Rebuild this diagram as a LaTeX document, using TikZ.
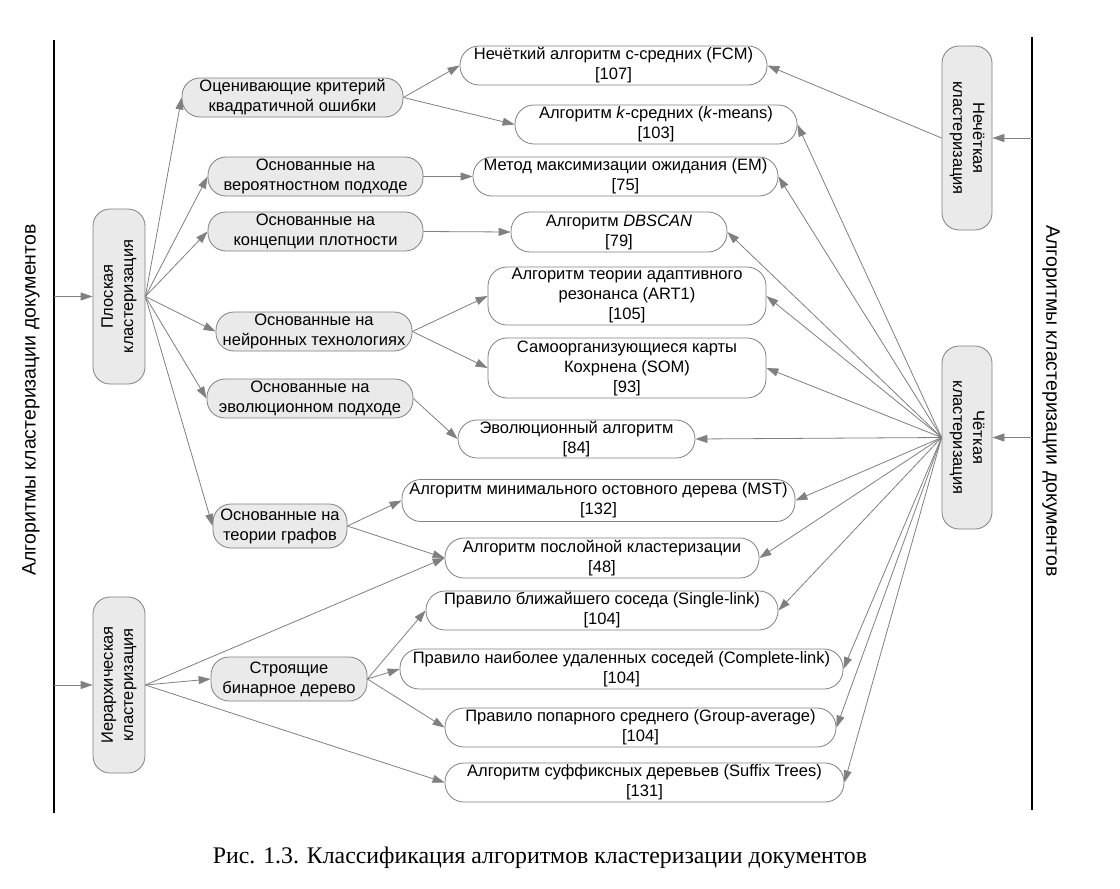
\documentclass[tikz,border=0pt]{standalone}
\usepackage{fontspec}
\usepackage{graphicx}
\setmainfont{Liberation Sans}
\newfontfamily\capfont{Liberation Serif}
\usetikzlibrary{arrows.meta}
\definecolor{lc}{HTML}{808080}
\definecolor{gf}{HTML}{EAEAEA}
\begin{document}
\begin{tikzpicture}[x=1pt,y=-1pt,
  every node/.style={font=\fontsize{16.5}{20}\selectfont, inner sep=0pt, align=center},
  gbox/.style={draw=lc, fill=gf, rounded corners=18pt, line width=0.8pt},
  wbox/.style={draw=lc, fill=white, rounded corners=19pt, line width=0.8pt},
  vbox/.style={draw=lc, fill=gf, rounded corners=17pt, line width=0.8pt},
  conn/.style={draw=lc, line width=0.8pt, -{Triangle[length=12pt,width=8pt]}},
  mainline/.style={draw=black, line width=1.2pt},
  biglabel/.style={font=\fontsize{19.5}{22}\selectfont},
]
\useasboundingbox (0,0) rectangle (1120,889);
\fill[white] (0,0) rectangle (1120,889);

% frame lines
\coordinate (lt) at (54,40); \coordinate (lb) at (54,813);
\coordinate (rt) at (1032,37); \coordinate (rb) at (1032,810);
\draw[mainline] (lt) -- (lb);
\draw[mainline] (rt) -- (rb);

\node[rotate=90, biglabel] (ll) at (31,400) {Алгоритмы кластеризации документов};
\node[rotate=-90, biglabel] (rl) at (1051,401) {Алгоритмы кластеризации документов};

% vertical boxes
\node[vbox, minimum width=52pt, minimum height=175pt] (fl) at (119,296.5)
  {\rotatebox{90}{\begin{tabular}{@{}c@{}}Плоская\\кластеризация\end{tabular}}};
\node[vbox, minimum width=52pt, minimum height=176pt] (hi) at (119,685)
  {\rotatebox{90}{\begin{tabular}{@{}c@{}}Иерархическая\\кластеризация\end{tabular}}};
\node[vbox, minimum width=50pt, minimum height=184pt] (fu) at (967,138)
  {\rotatebox{-90}{\begin{tabular}{@{}c@{}}Нечёткая\\кластеризация\end{tabular}}};
\node[vbox, minimum width=50pt, minimum height=183pt] (cr) at (967,437.5)
  {\rotatebox{-90}{\begin{tabular}{@{}c@{}}Чёткая\\кластеризация\end{tabular}}};

% gray level-2 boxes
\node[gbox, minimum width=221pt, minimum height=39pt] (oc) at (292.5,97.5) {Оценивающие критерий\\квадратичной ошибки};
\node[gbox, minimum width=215pt, minimum height=39pt] (ver) at (315.5,176.5) {Основанные на\\вероятностном подходе};
\node[gbox, minimum width=215pt, minimum height=39pt] (pl) at (315.5,231.5) {Основанные на\\концепции плотности};
\node[gbox, minimum width=196pt, minimum height=39pt] (ne) at (314,331.5) {Основанные на\\нейронных технологиях};
\node[gbox, minimum width=206pt, minimum height=39pt] (ev) at (310,398.5) {Основанные на\\эволюционном подходе};
\node[gbox, minimum width=134pt, minimum height=44pt] (gr) at (280,526) {Основанные на\\теории графов};
\node[gbox, minimum width=156pt, minimum height=44pt] (bi) at (289,679) {Строящие\\бинарное дерево};

% white level-3 boxes
\node[wbox, minimum width=307pt, minimum height=39pt] (fcm) at (613.5,65.5) {Нечёткий алгоритм c-средних (FCM)\\{[107]}};
\node[wbox, minimum width=282pt, minimum height=39pt] (km) at (656,124.5) {Алгоритм \textit{k}-средних (\textit{k}-means)\\{[103]}};
\node[wbox, minimum width=305pt, minimum height=39pt] (em) at (625.5,176.5) {Метод максимизации ожидания (EM)\\{[75]}};
\node[wbox, minimum width=216pt, minimum height=40pt] (db) at (619,232) {Алгоритм \textit{DBSCAN}\\{[79]}};
\node[wbox, minimum width=278pt, minimum height=58pt] (art) at (627,296) {Алгоритм теории адаптивного\\резонанса (ART1)\\{[105]}};
\node[wbox, minimum width=278pt, minimum height=60pt] (som) at (627,368) {Самоорганизующиеся карты\\Кохрнена (SOM)\\{[93]}};
\node[wbox, minimum width=237pt, minimum height=38pt] (evo) at (576.5,439) {Эволюционный алгоритм\\{[84]}};
\node[wbox, minimum width=393pt, minimum height=42pt] (mst) at (598.5,500.5) {Алгоритм минимального остовного дерева (MST)\\{[132]}};
\node[wbox, minimum width=314pt, minimum height=40pt] (sl) at (602,558) {Алгоритм послойной кластеризации\\{[48]}};
\node[wbox, minimum width=352pt, minimum height=39pt] (sn) at (602,610.5) {Правило ближайшего соседа (Single-link)\\{[104]}};
\node[wbox, minimum width=443pt, minimum height=40pt] (cl) at (621.5,669) {Правило наиболее удаленных соседей (Complete-link)\\{[104]}};
\node[wbox, minimum width=391pt, minimum height=39pt] (ga) at (640.5,727.5) {Правило попарного среднего (Group-average)\\{[104]}};
\node[wbox, minimum width=399pt, minimum height=39pt] (sf) at (644.5,782.5) {Алгоритм суффиксных деревьев (Suffix Trees)\\{[131]}};

% arrows from frame lines
\coordinate (lf) at (54,296.5);
\coordinate (lh) at (54,685);
\coordinate (rf) at (1032,138);
\coordinate (rc) at (1032,437.5);
\draw[conn] (lf) -- (fl.west);
\draw[conn] (lh) -- (hi.west);
\draw[conn] (rf) -- (fu.east);
\draw[conn] (rc) -- (cr.east);

% flat clustering
\foreach \t in {oc,ver,pl,ne,ev,gr} \draw[conn] (fl.east) -- (\t.west);
\draw[conn] (oc.east) -- (fcm.west);
\draw[conn] (oc.east) -- (km.west);
\draw[conn] (ver.east) -- (em.west);
\draw[conn] (pl.east) -- (db.west);
\draw[conn] (ne.east) -- (art.west);
\draw[conn] (ne.east) -- (som.west);
\draw[conn] (ev.east) -- (evo.west);
\draw[conn] (gr.east) -- (mst.west);
\draw[conn] (gr.east) -- (sl.west);

% hierarchical clustering
\draw[conn] (hi.east) -- (sl.west);
\draw[conn] (hi.east) -- (bi.west);
\draw[conn] (hi.east) -- (sf.west);
\draw[conn] (bi.east) -- (sn.west);
\draw[conn] (bi.east) -- (cl.west);
\draw[conn] (bi.east) -- (ga.west);

% fuzzy / crisp
\draw[conn] (fu.west) -- (fcm.east);
\foreach \t in {km,em,db,art,som,evo,mst,sl,sn,cl,ga,sf} \draw[conn] (cr.west) -- (\t.east);

% caption
\node[font=\capfont\fontsize{23.8}{26}\selectfont] (cap) at (540,858) {Рис. 1.3. Классификация алгоритмов кластеризации документов};
\end{tikzpicture}
\end{document}
